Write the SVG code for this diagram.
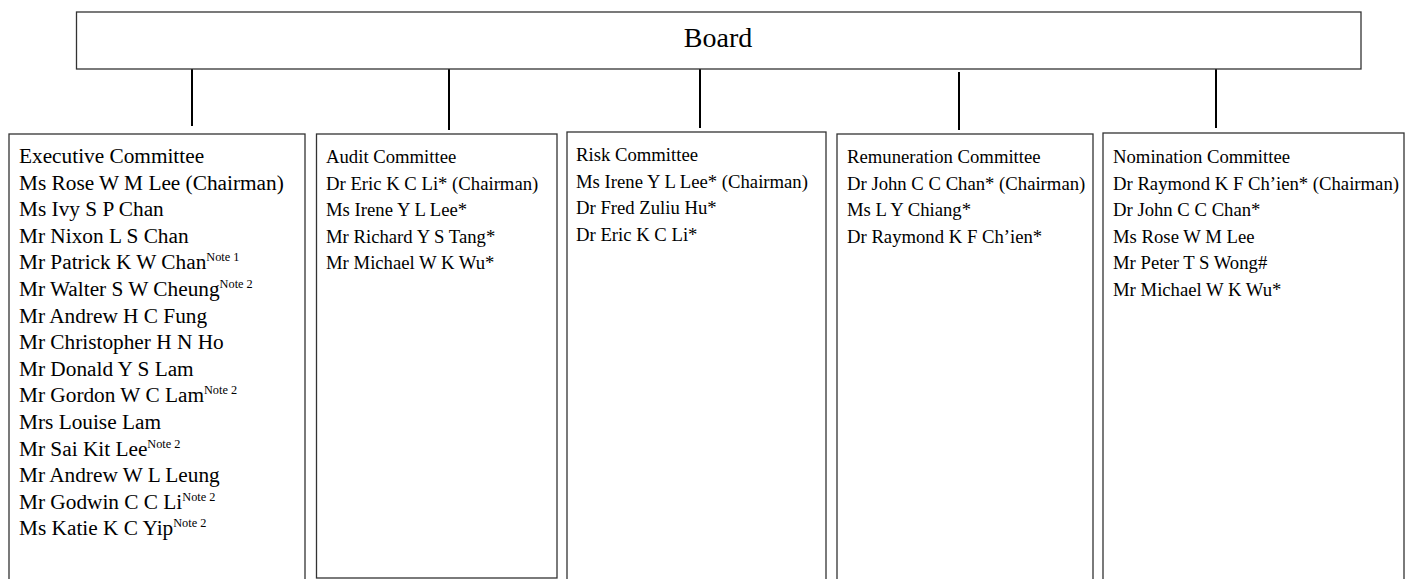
<svg xmlns="http://www.w3.org/2000/svg" width="1408" height="579" viewBox="0 0 1408 579">
<style>
.box{fill:#fff;stroke:#333;stroke-width:1.3}
.conn{stroke:#000;stroke-width:2;fill:none}
text{font-family:"Liberation Serif","Times New Roman",serif;fill:#000}
.big{font-size:21.3px}
.mid{font-size:18.7px}
.sup{font-size:12.3px}
.board{font-size:28px}
</style>
<rect width="1408" height="579" fill="#fff"/>
<g id="connectors">
<line class="conn" x1="192" y1="69" x2="192" y2="126"/>
<line class="conn" x1="449" y1="69" x2="449" y2="130"/>
<line class="conn" x1="700" y1="69" x2="700" y2="128"/>
<line class="conn" x1="959" y1="72" x2="959" y2="130"/>
<line class="conn" x1="1216" y1="69" x2="1216" y2="128"/>
</g>
<g id="board">
<rect class="box" x="76.5" y="12" width="1284.5" height="57"/>
<text class="board" x="718" y="47" text-anchor="middle">Board</text>
</g>
<g id="executive">
<rect class="box" x="9" y="134" width="296" height="460"/>
<text class="big" x="19" y="163">Executive Committee</text>
<text class="big" x="19" y="189.6">Ms Rose W M Lee (Chairman)</text>
<text class="big" x="19" y="216.2">Ms Ivy S P Chan</text>
<text class="big" x="19" y="242.8">Mr Nixon L S Chan</text>
<text class="big" x="19" y="269.4">Mr Patrick K W Chan<tspan class="sup" dy="-8">Note 1</tspan></text>
<text class="big" x="19" y="296">Mr Walter S W Cheung<tspan class="sup" dy="-8">Note 2</tspan></text>
<text class="big" x="19" y="322.6">Mr Andrew H C Fung</text>
<text class="big" x="19" y="349.2">Mr Christopher H N Ho</text>
<text class="big" x="19" y="375.8">Mr Donald Y S Lam</text>
<text class="big" x="19" y="402.4">Mr Gordon W C Lam<tspan class="sup" dy="-8">Note 2</tspan></text>
<text class="big" x="19" y="429">Mrs Louise Lam</text>
<text class="big" x="19" y="455.6">Mr Sai Kit Lee<tspan class="sup" dy="-8">Note 2</tspan></text>
<text class="big" x="19" y="482.2">Mr Andrew W L Leung</text>
<text class="big" x="19" y="508.8">Mr Godwin C C Li<tspan class="sup" dy="-8">Note 2</tspan></text>
<text class="big" x="19" y="535.4">Ms Katie K C Yip<tspan class="sup" dy="-8">Note 2</tspan></text>
</g>
<g id="audit">
<rect class="box" x="316.5" y="134" width="240.5" height="444"/>
<text class="mid" x="326" y="163">Audit Committee</text>
<text class="mid" x="326" y="190">Dr Eric K C Li* (Chairman)</text>
<text class="mid" x="326" y="216">Ms Irene Y L Lee*</text>
<text class="mid" x="326" y="243">Mr Richard Y S Tang*</text>
<text class="mid" x="326" y="269">Mr Michael W K Wu*</text>
</g>
<g id="risk">
<rect class="box" x="567" y="132" width="259" height="460"/>
<text class="mid" x="576" y="161">Risk Committee</text>
<text class="mid" x="576" y="188">Ms Irene Y L Lee* (Chairman)</text>
<text class="mid" x="576" y="214">Dr Fred Zuliu Hu*</text>
<text class="mid" x="576" y="241">Dr Eric K C Li*</text>
</g>
<g id="remuneration">
<rect class="box" x="837" y="134" width="256" height="460"/>
<text class="mid" x="847" y="163">Remuneration Committee</text>
<text class="mid" x="847" y="190">Dr John C C Chan* (Chairman)</text>
<text class="mid" x="847" y="216">Ms L Y Chiang*</text>
<text class="mid" x="847" y="243">Dr Raymond K F Ch’ien*</text>
</g>
<g id="nomination">
<rect class="box" x="1103" y="133" width="301" height="460"/>
<text class="mid" x="1113" y="163">Nomination Committee</text>
<text class="mid" x="1113" y="190">Dr Raymond K F Ch’ien* (Chairman)</text>
<text class="mid" x="1113" y="216">Dr John C C Chan*</text>
<text class="mid" x="1113" y="243">Ms Rose W M Lee</text>
<text class="mid" x="1113" y="269">Mr Peter T S Wong#</text>
<text class="mid" x="1113" y="296">Mr Michael W K Wu*</text>
</g>
</svg>
